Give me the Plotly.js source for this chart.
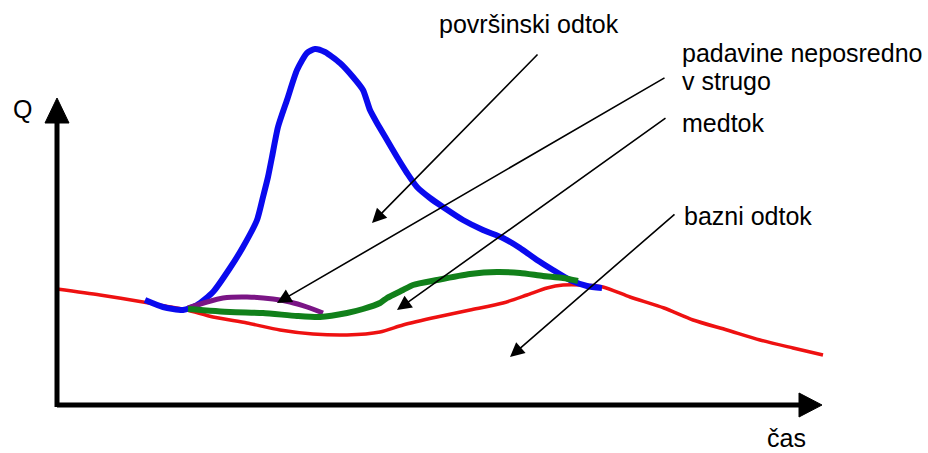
<!DOCTYPE html>
<html>
<head>
<meta charset="utf-8">
<script src="https://cdn.plot.ly/plotly-3.0.1.min.js"></script>
<style>html,body{margin:0;padding:0;background:#fff;}#chart{width:928px;height:453px;}</style>
</head>
<body>
<div id="chart"></div>
<script>
// ---- data (time t, discharge Q, arbitrary units) ----
var baseT = [0,43,86,108,130,156,190,223,256,290,323,346,380,413,446,470,490,506,526,546,573,607,636,670,703,736,766];
var baseQ = [116,110,103,99,95,88,82,75,71,70,73,80,88,95,102,110,117,120,120,118,108,97,85,75,65,57,50];

var totalT = [88,106,126,140,156,173,186,200,206,211,215,221,230,240,250,258,268,283,296,306,313,320,330,340,350,360,373,386,406,426,446,463,480,496,513,530,545];
var totalQ = [105,98,95,100,113,137,158,185,208,228,248,278,305,335,352,356,353,342,328,315,295,282,265,248,232,218,207,198,185,175,167,157,145,135,125,119,117];

var interT = [131,173,206,240,263,290,306,323,330,346,356,380,413,440,463,486,506,521];
var interQ = [96,93,92,89,88,92,96,102,107,115,120,125,131,133,132,129,127,124];

var chanT = [131,150,166,190,216,233,250,266];
var chanQ = [97,103,107,108,106,103,98,92];

var labels = ["površinski odtok", "padavine neposredno", "v strugo", "medtok", "bazni odtok"];
var labelT = [380, 623, 623, 623, 625];
var labelQ = [381, 352, 324, 282, 189];

// pointer arrows: head (t,Q) and tail (t,Q)
var ptrHeadT = [315, 220, 340, 453];
var ptrHeadQ = [182, 102, 95, 48];
var ptrTailT = [482, 609, 610, 619];
var ptrTailQ = [352, 328, 288, 192];

var axisLabels = ["Q", "čas"];
var axisLabelT = [-46, 708];
var axisLabelQ = [296, -33];

var axisEndT = 765;   // tip of time axis
var axisEndQ = 307;   // tip of Q axis

// ---- styles ----
var FONT = "Liberation Sans, Arial, sans-serif";
var FS = 25;
var headLen = 23, headHalf = 12;

var traces = [
  {x: baseT, y: baseQ, mode: "lines", line: {color: "#ee1111", width: 3.5, shape: "spline", smoothing: 0.7}, hoverinfo: "skip"},
  {x: totalT, y: totalQ, mode: "lines", line: {color: "#0a0aee", width: 6, shape: "spline", smoothing: 0.6}, hoverinfo: "skip"},
  {x: chanT, y: chanQ, mode: "lines", line: {color: "#7a1585", width: 5, shape: "spline", smoothing: 0.6}, hoverinfo: "skip"},
  {x: interT, y: interQ, mode: "lines", line: {color: "#11801a", width: 6, shape: "spline", smoothing: 0.6}, hoverinfo: "skip"}
];

var annotations = [];
for (var i = 0; i < labels.length; i++) {
  annotations.push({x: labelT[i], y: labelQ[i], xref: "x", yref: "y", text: labels[i], showarrow: false,
    xanchor: "left", yanchor: "middle", font: {family: FONT, size: FS, color: "#000"}});
}
for (var j = 0; j < axisLabels.length; j++) {
  annotations.push({x: axisLabelT[j], y: axisLabelQ[j], xref: "x", yref: "y", text: axisLabels[j], showarrow: false,
    xanchor: "left", yanchor: "middle", font: {family: FONT, size: FS, color: "#000"}});
}
for (var k = 0; k < ptrHeadT.length; k++) {
  annotations.push({x: ptrHeadT[k], y: ptrHeadQ[k], xref: "x", yref: "y", ax: ptrTailT[k], ay: ptrTailQ[k],
    axref: "x", ayref: "y", text: "", showarrow: true, arrowhead: 2, arrowsize: 1.8, arrowwidth: 1.6,
    arrowcolor: "#000", standoff: 0, startstandoff: 0});
}

var shapes = [
  {type: "line", xref: "x", yref: "y", x0: 0, y0: 0, x1: axisEndT - headLen, y1: 0, line: {color: "#000", width: 5}},
  {type: "line", xref: "x", yref: "y", x0: 0, y0: -2, x1: 0, y1: axisEndQ - headLen, line: {color: "#000", width: 5}},
  {type: "path", xref: "x", yref: "y", fillcolor: "#000", line: {color: "#000", width: 1},
    path: "M " + (axisEndT - headLen) + "," + headHalf + " L " + axisEndT + ",0 L " + (axisEndT - headLen) + "," + (-headHalf) + " Z"},
  {type: "path", xref: "x", yref: "y", fillcolor: "#000", line: {color: "#000", width: 1},
    path: "M " + (-headHalf) + "," + (axisEndQ - headLen - 2) + " L 0," + axisEndQ + " L " + headHalf + "," + (axisEndQ - headLen - 2) + " Z"}
];

var layout = {
  width: 928, height: 453, autosize: false,
  margin: {l: 0, r: 0, t: 0, b: 0, pad: 0},
  paper_bgcolor: "#fff", plot_bgcolor: "#fff",
  showlegend: false,
  xaxis: {range: [-57, 871], visible: false, fixedrange: true},
  yaxis: {range: [-48, 405], visible: false, fixedrange: true},
  annotations: annotations,
  shapes: shapes
};

Plotly.newPlot("chart", traces, layout, {staticPlot: true, displayModeBar: false});
</script>
</body>
</html>
